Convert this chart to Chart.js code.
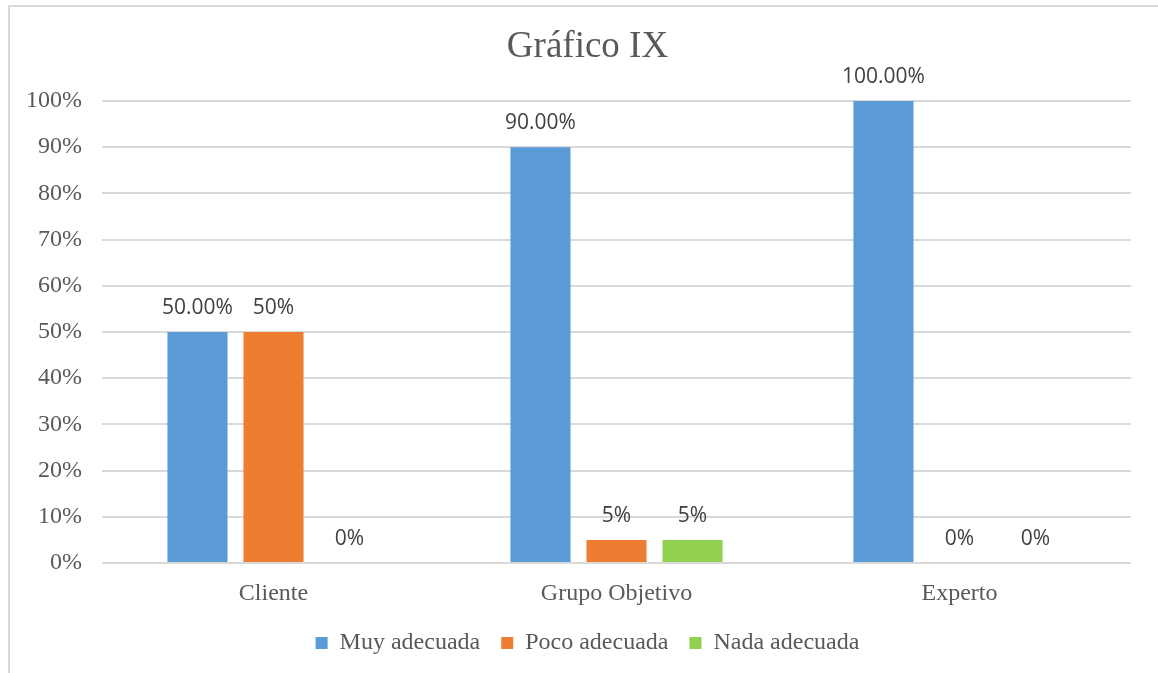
<!DOCTYPE html>
<html>
<head>
<meta charset="utf-8">
<title>Gráfico IX</title>
<script src="https://cdn.jsdelivr.net/npm/chart.js@4/dist/chart.umd.min.js"></script>
<style>
  html, body { margin: 0; padding: 0; background: #fff; }
  canvas { display: block; }
</style>
</head>
<body>
<canvas id="myChart" width="1158" height="673"></canvas>
<script>
// data
const categories = ["Cliente", "Grupo Objetivo", "Experto"];
const seriesNames = ["Muy adecuada", "Poco adecuada", "Nada adecuada"];
const muyAdecuada = [50, 90, 100];
const pocoAdecuada = [50, 5, 0];
const nadaAdecuada = [0, 5, 0];
// labels exactly as printed above the bars
const muyLabels = ["50.00%", "90.00%", "100.00%"];
const pocoLabels = ["50%", "5%", "0%"];
const nadaLabels = ["0%", "5%", "0%"];
const yTicks = [0, 10, 20, 30, 40, 50, 60, 70, 80, 90, 100];

const serif = "'Liberation Serif', 'Times New Roman', serif";
const textColor = "#595959";

// frame + white background
const framePlugin = {
    id: "frame",
    beforeDraw(chart) {
        const ctx = chart.ctx;
        ctx.save();
        ctx.fillStyle = "#fff";
        ctx.fillRect(0, 0, chart.width, chart.height);
        ctx.strokeStyle = "#d9d9d9";
        ctx.lineWidth = 2;
        ctx.beginPath();
        ctx.moveTo(9, chart.height);
        ctx.lineTo(9, 6);
        ctx.lineTo(chart.width, 6);
        ctx.stroke();
        ctx.restore();
    }
};

// value labels above bars
const valueLabels = {
    id: "valueLabels",
    afterDatasetsDraw(chart) {
        const ctx = chart.ctx;
        ctx.save();
        ctx.font = "21px 'Open Sans', sans-serif";
        ctx.fillStyle = "#404040";
        ctx.textAlign = "center";
        ctx.textBaseline = "alphabetic";
        chart.data.datasets.forEach((ds, i) => {
            const meta = chart.getDatasetMeta(i);
            meta.data.forEach((bar, j) => {
                ctx.fillText(ds.valueText[j], bar.x, bar.y - 18);
            });
        });
        ctx.restore();
    }
};

// don't clip tick labels to the (narrow) scale box
const noClip = scale => { scale._computeLabelArea = () => null; };

const ctx = document.getElementById("myChart").getContext("2d");
const myChart = new Chart(ctx, {
    type: "bar",
    data: {
        labels: categories,
        datasets: [
            { label: seriesNames[0], data: muyAdecuada, valueText: muyLabels, backgroundColor: "#5B9BD5" },
            { label: seriesNames[1], data: pocoAdecuada, valueText: pocoLabels, backgroundColor: "#ED7D31" },
            { label: seriesNames[2], data: nadaAdecuada, valueText: nadaLabels, backgroundColor: "#92D050" }
        ]
    },
    options: {
        responsive: false,
        animation: false,
        categoryPercentage: 0.665,
        barPercentage: 0.79,
        layout: { padding: { left: 44, right: 27, top: 0, bottom: 8 } },
        plugins: {
            title: {
                display: true,
                text: "Gráfico IX",
                color: textColor,
                font: { family: serif, size: 37, weight: "normal" },
                padding: { top: 25, bottom: 31.6 }
            },
            legend: {
                position: "bottom",
                labels: {
                    color: textColor,
                    font: { family: serif, size: 24 },
                    boxWidth: 12,
                    boxHeight: 12,
                    padding: 21
                }
            },
            tooltip: { enabled: false }
        },
        scales: {
            x: {
                grid: { display: false },
                border: { display: false },
                ticks: { color: textColor, font: { family: serif, size: 24 }, padding: 8 },
                afterFit(scale) { scale.height = 47; noClip(scale); }
            },
            y: {
                min: 0,
                max: 100,
                afterBuildTicks(scale) { scale.ticks = yTicks.map(v => ({ value: v })); },
                grid: { color: "#d9d9d9", lineWidth: 2, drawTicks: false },
                border: { display: false },
                ticks: {
                    color: textColor,
                    font: { family: serif, size: 24 },
                    padding: 20,
                    callback: v => v + "%"
                },
                afterFit(scale) { scale.width = 58; noClip(scale); }
            }
        }
    },
    plugins: [framePlugin, valueLabels]
});
</script>
</body>
</html>
